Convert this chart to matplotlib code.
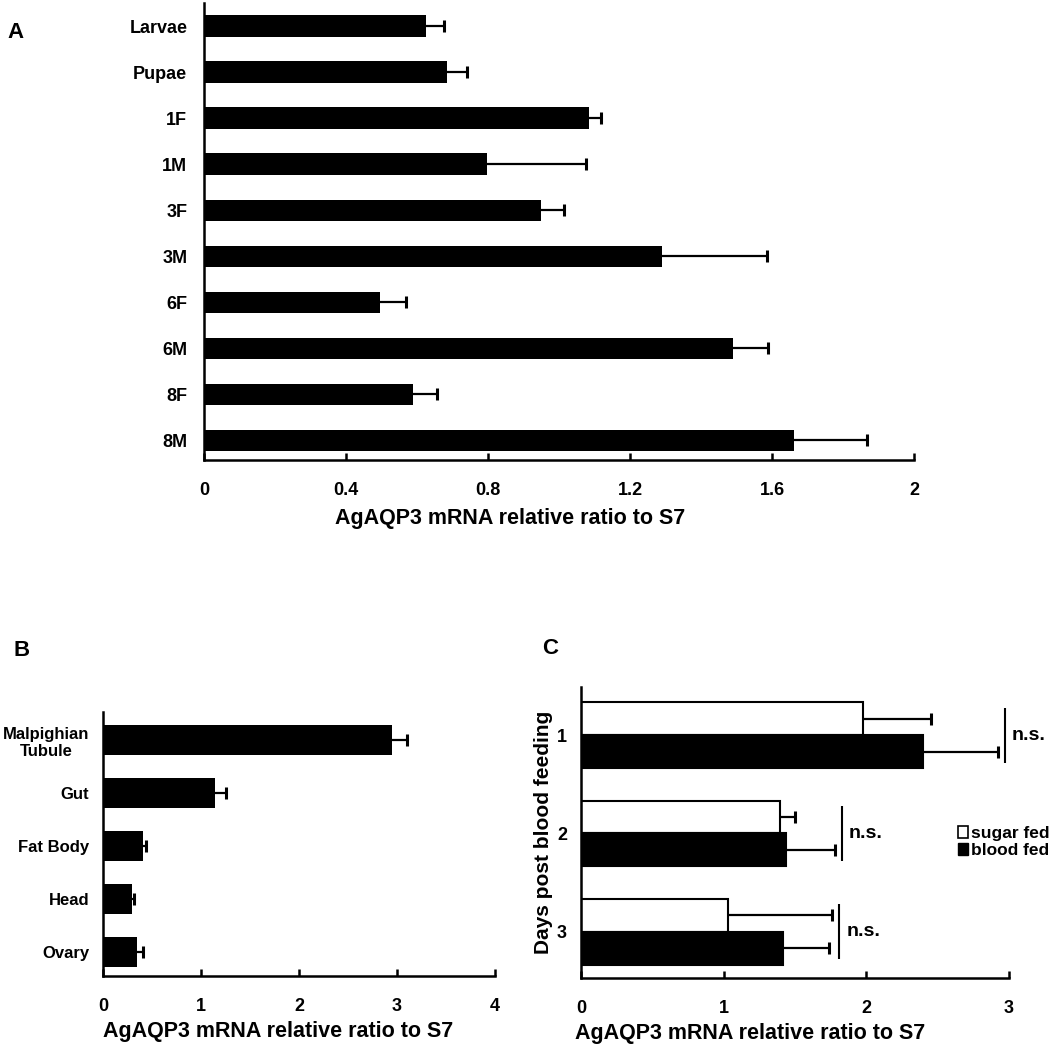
import numpy as np
import matplotlib
matplotlib.use('Agg')
import matplotlib.pyplot as plt
from matplotlib.patches import Patch

plt.rcParams['font.family'] = ['Liberation Sans', 'DejaVu Sans']
plt.rcParams['font.weight'] = 'bold'

# Data
stages = ['Larvae', 'Pupae', '1F', '1M', '3F', '3M', '6F', '6M', '8F', '8M']
stage_vals = [0.625, 0.685, 1.085, 0.797, 0.949, 1.29, 0.496, 1.49, 0.589, 1.662]
stage_err = [0.05, 0.056, 0.034, 0.28, 0.065, 0.296, 0.073, 0.099, 0.067, 0.206]

tissues = ['Malpighian\nTubule', 'Gut', 'Fat Body', 'Head', 'Ovary']
tissue_vals = [2.95, 1.14, 0.41, 0.30, 0.35]
tissue_err = [0.15, 0.11, 0.03, 0.02, 0.06]

days = ['1', '2', '3']
sugar_vals = [1.98, 1.395, 1.03]
sugar_err = [0.47, 0.105, 0.73]
blood_vals = [2.40, 1.437, 1.415]
blood_err = [0.52, 0.34, 0.32]
sig_labels = ['n.s.', 'n.s.', 'n.s.']

xlabel = 'AgAQP3 mRNA relative ratio to S7'

W, H = 1050, 1047
fig = plt.figure(figsize=(W / 100, H / 100), dpi=100)


def px_axes(left, right, top, bottom):
    return fig.add_axes([left / W, 1 - bottom / H, (right - left) / W, (bottom - top) / H])


def style(ax, ypad, xpad=16):
    for s in ['top', 'right']:
        ax.spines[s].set_visible(False)
    for s in ['left', 'bottom']:
        ax.spines[s].set_linewidth(1.8)
    ax.tick_params(axis='x', direction='in', length=5, width=1.8, pad=xpad, labelsize=13)
    ax.tick_params(axis='y', length=0, pad=ypad, labelsize=13)


def upper_err(ax, y, vals, errs):
    # one-sided error bars: line from bar end, cap only at the far end
    vals = np.asarray(vals)
    ends = vals + np.asarray(errs)
    ax.hlines(y, vals, ends, color='black', lw=1.6, zorder=3)
    ax.plot(ends, y, ls='none', marker='|', ms=8, mew=2.2, color='black', zorder=3)


# Panel A
axA = px_axes(204, 914, 3, 460)
y = np.arange(len(stages))
axA.barh(y, stage_vals, height=0.46, color='black')
upper_err(axA, y, stage_vals, stage_err)
axA.set_yticks(y)
axA.set_yticklabels(stages)
axA.set_ylim(len(stages) - 1 + 0.43, -0.5)
axA.set_xlim(0, 2)
axA.set_xticks([0, 0.4, 0.8, 1.2, 1.6, 2])
axA.set_xticklabels(['0', '0.4', '0.8', '1.2', '1.6', '2'])
style(axA, 12)
axA.set_xlabel(xlabel, fontsize=15.5, fontweight='bold')
axA.xaxis.set_label_coords(0.431, -0.105)

# Panel B
axB = px_axes(103, 495, 712, 976)
yb = np.arange(len(tissues))
axB.barh(yb, tissue_vals, height=0.57, color='black')
upper_err(axB, yb, tissue_vals, tissue_err)
axB.set_yticks(yb)
axB.set_yticklabels(tissues)
axB.set_ylim(len(tissues) - 1 + 0.45, -0.53)
axB.set_xlim(0, 4)
axB.set_xticks([0, 1, 2, 3, 4])
style(axB, 10)
for t in axB.get_yticklabels():
    t.set_fontsize(12)
    t.set_multialignment('center')
axB.set_xlabel(xlabel, fontsize=15.5, fontweight='bold')
axB.xaxis.set_label_coords(0.446, -0.17)

# Panel C
axC = px_axes(581, 1009, 687, 978)
yc = np.arange(1, len(days) + 1)
h = 0.335
axC.barh(yc - h / 2, sugar_vals, height=h, color='white', edgecolor='black', linewidth=1.5)
axC.barh(yc + h / 2, blood_vals, height=h, color='black', edgecolor='black', linewidth=1.5)
upper_err(axC, yc - h / 2, sugar_vals, sugar_err)
upper_err(axC, yc + h / 2, blood_vals, blood_err)
axC.set_yticks(yc)
axC.set_yticklabels(days)
axC.set_ylim(len(days) + 0.47, 0.51)
axC.set_xlim(0, 3)
axC.set_xticks([0, 1, 2, 3])
style(axC, 10)
axC.set_xlabel(xlabel, fontsize=15.5, fontweight='bold')
axC.xaxis.set_label_coords(0.395, -0.155)
axC.set_ylabel('Days post blood feeding', fontsize=15, fontweight='bold')
axC.yaxis.set_label_coords(-0.065, 0.5)

tops = np.maximum(np.array(sugar_vals) + sugar_err, np.array(blood_vals) + blood_err)
sig_x = tops + 0.05
axC.vlines(sig_x, yc - 0.28, yc + 0.28, color='black', lw=1.5, clip_on=False)
for sx, yy, s in zip(sig_x, yc, sig_labels):
    axC.text(sx + 0.05, yy, s, fontsize=14, fontweight='bold', va='center', ha='left', clip_on=False)

handles = [Patch(facecolor='white', edgecolor='black', linewidth=1.2),
           Patch(facecolor='black', edgecolor='black')]
fig.legend(handles, ['sugar fed', 'blood fed'], loc='center left',
           bbox_to_anchor=(958 / W, 1 - 842 / H), frameon=False,
           handlelength=0.6, handleheight=0.7, handletextpad=0.15, labelspacing=0.15,
           borderpad=0, borderaxespad=0, prop={'weight': 'bold', 'size': 12.5})

# Panel letters
fig.text(15 / W, 1 - 33 / H, 'A', fontsize=16, fontweight='bold', ha='center', va='center')
fig.text(22 / W, 1 - 650 / H, 'B', fontsize=16, fontweight='bold', ha='center', va='center')
fig.text(550 / W, 1 - 648 / H, 'C', fontsize=16, fontweight='bold', ha='center', va='center')

fig.savefig('out.png', dpi=100)
